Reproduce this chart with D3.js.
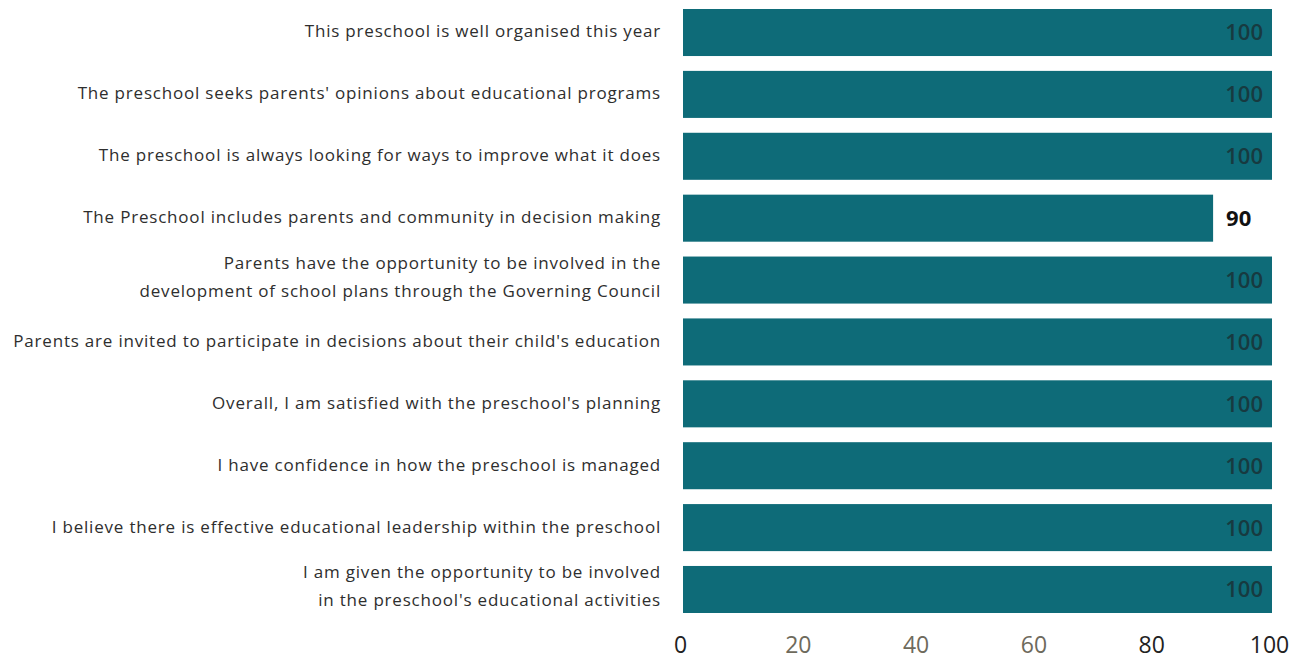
<!DOCTYPE html>
<html><head><meta charset="utf-8">
<script src="https://cdn.jsdelivr.net/npm/d3@7"></script>
<style>body{margin:0;background:#fff}svg{display:block}</style>
</head><body>
<script>
const categories = [
  ["This preschool is well organised this year"],
  ["The preschool seeks parents' opinions about educational programs"],
  ["The preschool is always looking for ways to improve what it does"],
  ["The Preschool includes parents and community in decision making"],
  ["Parents have the opportunity to be involved in the", "development of school plans through the Governing Council"],
  ["Parents are invited to participate in decisions about their child's education"],
  ["Overall, I am satisfied with the preschool's planning"],
  ["I have confidence in how the preschool is managed"],
  ["I believe there is effective educational leadership within the preschool"],
  ["I am given the opportunity to be involved", "in the preschool's educational activities"]
];
const values = [100, 100, 100, 90, 100, 100, 100, 100, 100, 100];
const tickValues = [0, 20, 40, 60, 80, 100];
const tickColors = ["#222", "#6e6a5c", "#6e6a5c", "#6e6a5c", "#222", "#222"];

const W = 1310, H = 661;
const svg = d3.select("body").append("svg").attr("width", W).attr("height", H);

const x = d3.scaleLinear().domain([0, 100]).range([683, 1272]);
const y = d3.scaleBand().domain(d3.range(values.length)).range([9, 613]).paddingInner(0.24).paddingOuter(0);

svg.selectAll("rect.bar").data(values).join("rect")
  .attr("class", "bar")
  .attr("x", x(0))
  .attr("y", (d, i) => y(i))
  .attr("width", d => x(d) - x(0))
  .attr("height", y.bandwidth())
  .attr("fill", "#0e6b78");

svg.selectAll("text.val").data(values).join("text")
  .attr("class", "val")
  .attr("x", d => d >= 95 ? x(d) - 9 : x(d) + 13)
  .attr("y", (d, i) => y(i) + y.bandwidth() / 2)
  .attr("dy", "0.36em")
  .attr("text-anchor", d => d >= 95 ? "end" : "start")
  .attr("font-family", "Open Sans, sans-serif")
  .attr("font-size", 22)
  .attr("font-weight", d => d >= 95 ? 600 : 700)
  .attr("fill", d => d >= 95 ? "#173a40" : "#111")
  .text(d => d);

const lab = svg.selectAll("text.cat").data(categories).join("text")
  .attr("class", "cat")
  .attr("text-anchor", "end")
  .attr("font-family", "Open Sans, sans-serif")
  .attr("font-size", 17)
  .attr("letter-spacing", "0.8px")
  .attr("fill", "#2e2e2e");
lab.each(function(lines, i) {
  const t = d3.select(this);
  const cy = y(i) + y.bandwidth() / 2 - (lines.length > 1 ? 3 : 1);
  const lh = 28;
  lines.forEach((ln, k) => {
    t.append("tspan")
      .attr("x", 661)
      .attr("y", cy + (k - (lines.length - 1) / 2) * lh)
      .attr("dy", "0.35em")
      .text(ln);
  });
});

const axis = d3.axisBottom(x).tickValues(tickValues).tickSize(0).tickPadding(0);
const g = svg.append("g").attr("transform", "translate(-3,637)").call(axis);
g.select(".domain").remove();
g.selectAll(".tick text")
  .attr("font-family", "Open Sans, sans-serif")
  .attr("font-size", 23)
  .attr("dy", "0.71em")
  .attr("fill", (d, i) => tickColors[i]);
</script>
</body></html>
